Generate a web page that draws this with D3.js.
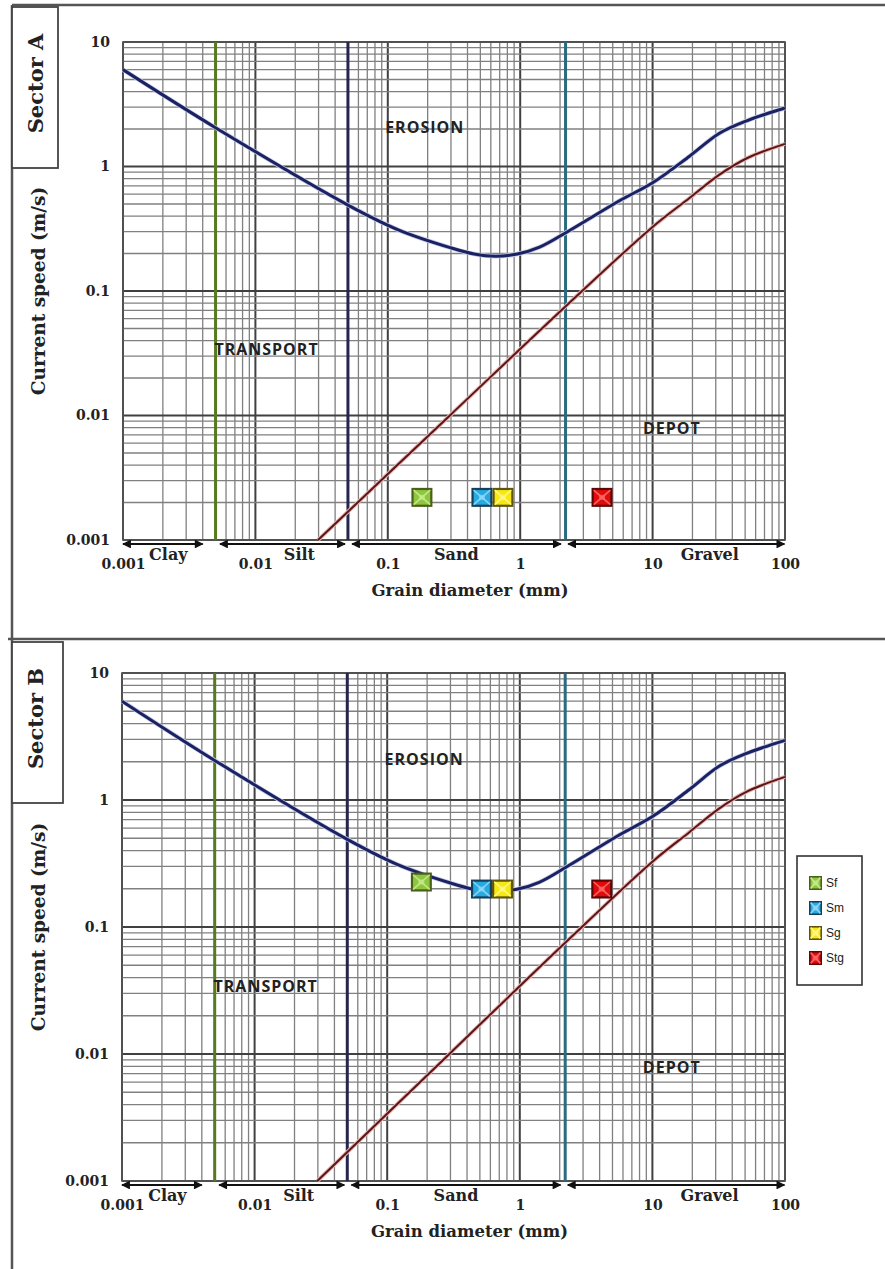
<!DOCTYPE html>
<html>
<head>
<meta charset="utf-8">
<script src="https://cdn.jsdelivr.net/npm/d3@7"></script>
<style>
  body { margin: 0; background: #fff; }
  svg { display: block; }
</style>
</head>
<body>
<svg id="chart" width="885" height="1269"></svg>
<script>
// ---- Data -------------------------------------------------------------
const xTicks = [0.001, 0.01, 0.1, 1, 10, 100];
const xTickLabels = ["0.001", "0.01", "0.1", "1", "10", "100"];
const yTicks = [0.001, 0.01, 0.1, 1, 10];
const yTickLabels = ["0.001", "0.01", "0.1", "1", "10"];

// Erosion threshold curve: [grain diameter (mm), current speed (m/s)]
const erosionCurve = [
  [0.001, 6.0], [0.005, 2.05], [0.05, 0.49], [0.12, 0.31], [0.3, 0.222],
  [0.45, 0.198], [0.65, 0.19], [0.95, 0.198], [1.4, 0.225], [2.26, 0.298],
  [5.7, 0.535], [10, 0.74], [19, 1.21], [32, 1.85], [52, 2.34], [100, 2.95]
];
// Deposition (settling) curve
const depositionCurve = [
  [0.0297, 0.001], [0.3, 0.0102], [2.26, 0.0772], [10, 0.327],
  [19, 0.558], [32, 0.86], [52, 1.17], [100, 1.52]
];

// Grain-size class boundaries (mm) drawn as vertical lines
const boundaryValues = [0.005, 0.05, 2.2];
const boundaryColors = ["#557a1f", "#25264f", "#2b6b80"];

// Grain-size classes: name, arrow start, arrow end, label position (mm)
const classNames = ["Clay", "Silt", "Sand", "Gravel"];
const classFrom = [0.001, 0.0054, 0.0537, 2.3];
const classTo = [0.0040, 0.0475, 2.03, 99];
const classLabelAt = [0.0022, 0.0215, 0.33, 27];

// Zone labels: text, diameter (mm), speed (m/s), anchor
const zoneNames = ["EROSION", "TRANSPORT", "DEPOT"];
const zoneX = [0.19, 0.0049, 14];
const zoneY = [2.07, 0.034, 0.0079];
const zoneAnchor = ["middle", "start", "middle"];

// Samples
const sampleNames = ["Sf", "Sm", "Sg", "Stg"];
const sampleDiameter = [0.181, 0.514, 0.741, 4.15];
const speedSectorA = [0.0022, 0.0022, 0.0022, 0.0022];
const speedSectorB = [0.226, 0.199, 0.199, 0.199];
const sampleColors = ["#8dc63f", "#27a9e1", "#f7e814", "#e10b0b"];
const sampleDark = ["#4b5e1c", "#15405c", "#5e5410", "#5c0606"];
const sampleLight = ["#c6ea8a", "#8fd8f6", "#fff88a", "#ff6a6a"];

const sectorNames = ["Sector A", "Sector B"];
const xTitle = "Grain diameter (mm)";
const yTitle = "Current speed (m/s)";

// ---- Layout -----------------------------------------------------------
const svg = d3.select("#chart");
const serif = "'DejaVu Serif', serif";
const sans = "'Open Sans', sans-serif";

const panels = [
  { left: 123, right: 785, top: 42, bottom: 540, speeds: speedSectorA,
    tab: { x: 12, y: 7, w: 46, h: 161 } },
  { left: 122, right: 785, top: 673, bottom: 1181, speeds: speedSectorB,
    tab: { x: 12, y: 642, w: 51, h: 161 } }
];

// Arrow heads
const defs = svg.append("defs");
defs.append("marker").attr("id", "ah").attr("viewBox", "0 0 10 10")
  .attr("refX", 9).attr("refY", 5).attr("markerWidth", 5).attr("markerHeight", 4.4)
  .attr("orient", "auto-start-reverse").attr("markerUnits", "strokeWidth")
  .append("path").attr("d", "M0,0 L10,5 L0,10 Z").attr("fill", "#111");

// Outer frame
const frame = svg.append("g").attr("stroke", "#555").attr("fill", "none");
frame.append("line").attr("x1", 12).attr("x2", 885).attr("y1", 5).attr("y2", 5).attr("stroke-width", 2.5);
frame.append("line").attr("x1", 12).attr("x2", 12).attr("y1", 5).attr("y2", 639).attr("stroke-width", 2.5);
frame.append("line").attr("x1", 8).attr("x2", 885).attr("y1", 639).attr("y2", 639).attr("stroke-width", 2.5);
frame.append("line").attr("x1", 12).attr("x2", 12).attr("y1", 639).attr("y2", 1269).attr("stroke-width", 2.5);

// Grid values: every 1..9 multiple of each decade
const gridVals = [];
for (let e = -3; e <= 1; e++) for (let k = 1; k <= 9; k++) gridVals.push({ v: k * Math.pow(10, e), major: k === 1 });
gridVals.push({ v: 100, major: true });

panels.forEach((p, pi) => {
  const g = svg.append("g");
  const x = d3.scaleLog().domain([0.001, 100]).range([p.left, p.right]);
  const y = d3.scaleLog().domain([0.001, 10]).range([p.bottom, p.top]);

  // Sector tab
  g.append("rect").attr("x", p.tab.x).attr("y", p.tab.y).attr("width", p.tab.w).attr("height", p.tab.h)
    .attr("fill", "#fff").attr("stroke", "#444").attr("stroke-width", 1.8);
  g.append("text").attr("transform", `translate(${p.tab.x + 31},${p.tab.y + p.tab.h / 2 - 4}) rotate(-90)`)
    .attr("text-anchor", "middle").attr("font-family", serif).attr("font-weight", "bold")
    .attr("font-size", 21).attr("fill", "#222").text(sectorNames[pi]);

  // Grid
  const vx = gridVals.filter(d => d.v >= 0.001 && d.v <= 100);
  g.append("g").selectAll("line").data(vx).join("line")
    .attr("x1", d => x(d.v)).attr("x2", d => x(d.v)).attr("y1", p.top).attr("y2", p.bottom)
    .attr("stroke", d => d.major ? "#404040" : "#808080").attr("stroke-width", d => d.major ? 2 : 1.3);
  const hy = gridVals.filter(d => d.v >= 0.001 && d.v <= 10);
  g.append("g").selectAll("line").data(hy).join("line")
    .attr("x1", p.left).attr("x2", p.right).attr("y1", d => y(d.v)).attr("y2", d => y(d.v))
    .attr("stroke", d => d.major ? "#404040" : "#808080").attr("stroke-width", d => d.major ? 2 : 1.3);
  g.append("rect").attr("x", p.left).attr("y", p.top).attr("width", p.right - p.left).attr("height", p.bottom - p.top)
    .attr("fill", "none").attr("stroke", "#555").attr("stroke-width", 1.6);

  // Class boundaries
  g.append("g").selectAll("line").data(boundaryValues).join("line")
    .attr("x1", d => x(d)).attr("x2", d => x(d)).attr("y1", p.top).attr("y2", p.bottom)
    .attr("stroke", (d, i) => boundaryColors[i]).attr("stroke-width", 3);

  // Curves
  const line = d3.line().x(d => x(d[0])).y(d => y(d[1])).curve(d3.curveCatmullRom.alpha(0.5));
  g.append("path").datum(depositionCurve).attr("d", line).attr("fill", "none")
    .attr("stroke", "#e8b4b4").attr("stroke-width", 4);
  g.append("path").datum(depositionCurve).attr("d", line).attr("fill", "none")
    .attr("stroke", "#5a1616").attr("stroke-width", 2);
  g.append("path").datum(erosionCurve).attr("d", line).attr("fill", "none")
    .attr("stroke", "#c8cce8").attr("stroke-width", 4.5);
  g.append("path").datum(erosionCurve).attr("d", line).attr("fill", "none")
    .attr("stroke", "#1b2262").attr("stroke-width", 3);

  // Zone labels
  g.append("g").selectAll("text").data(zoneNames).join("text")
    .attr("x", (d, i) => x(zoneX[i])).attr("y", (d, i) => y(zoneY[i])).attr("dy", "0.35em")
    .attr("text-anchor", (d, i) => zoneAnchor[i])
    .attr("font-family", sans).attr("font-weight", "bold").attr("font-size", 16)
    .attr("letter-spacing", 1).attr("fill", "#222")
    .text(d => d);

  // Axes
  const xa = g.append("g").attr("transform", `translate(0,${p.bottom})`)
    .call(d3.axisBottom(x).tickValues(xTicks).tickFormat((d, i) => xTickLabels[i]).tickSize(0).tickPadding(19));
  xa.select(".domain").remove();
  xa.selectAll("text").attr("font-family", serif).attr("font-weight", "bold").attr("font-size", 14).attr("fill", "#222");

  const ya = g.append("g").attr("transform", `translate(${p.left},0)`)
    .call(d3.axisLeft(y).tickValues(yTicks).tickFormat((d, i) => yTickLabels[i]).tickSize(0).tickPadding(13));
  ya.select(".domain").remove();
  ya.selectAll("text").attr("font-family", serif).attr("font-weight", "bold").attr("font-size", 14).attr("fill", "#222");

  // Class arrows
  const ay = p.bottom + 4;
  g.append("g").selectAll("line").data(classNames).join("line")
    .attr("x1", (d, i) => x(classFrom[i])).attr("x2", (d, i) => x(classTo[i]))
    .attr("y1", ay).attr("y2", ay).attr("stroke", "#111").attr("stroke-width", 2)
    .attr("marker-start", "url(#ah)").attr("marker-end", "url(#ah)");
  g.append("g").selectAll("text").data(classNames).join("text")
    .attr("x", (d, i) => x(classLabelAt[i])).attr("y", p.bottom + 20)
    .attr("text-anchor", "middle").attr("font-family", serif).attr("font-weight", "bold")
    .attr("font-size", 16).attr("fill", "#222").text(d => d);

  // Axis titles
  g.append("text").attr("x", (p.left + p.right) / 2 + 16).attr("y", p.bottom + 56)
    .attr("text-anchor", "middle").attr("font-family", serif).attr("font-weight", "bold")
    .attr("font-size", 16.5).attr("fill", "#222").text(xTitle);
  g.append("text").attr("transform", `translate(45,${(p.top + p.bottom) / 2}) rotate(-90)`)
    .attr("text-anchor", "middle").attr("font-family", serif).attr("font-weight", "bold")
    .attr("font-size", 18.5).attr("fill", "#222").text(yTitle);

  // Sample markers (bevelled squares)
  const w = 21, h = 19;
  const mk = g.append("g").selectAll("g").data(sampleNames).join("g")
    .attr("transform", (d, i) => `translate(${x(sampleDiameter[i]) - w / 2},${y(p.speeds[i]) - h / 2})`);
  drawBevel(mk, w, h, 2.2);
});

function drawBevel(sel, w, h, b) {
  sel.append("rect").attr("width", w).attr("height", h).attr("fill", (d, i) => sampleDark[i]);
  const iw = w - 2 * b, ih = h - 2 * b, cx = w / 2, cy = h / 2;
  sel.append("rect").attr("x", b).attr("y", b).attr("width", iw).attr("height", ih)
    .attr("fill", (d, i) => sampleColors[i]);
  // light diagonals towards the centre
  sel.append("path")
    .attr("d", `M${b},${b} L${cx},${cy} L${w - b},${b} M${b},${h - b} L${cx},${cy} L${w - b},${h - b}`)
    .attr("stroke", (d, i) => sampleLight[i]).attr("stroke-width", 1.6).attr("fill", "none").attr("opacity", 0.9);
  sel.append("rect").attr("x", cx - 3).attr("y", cy - 2.5).attr("width", 6).attr("height", 5)
    .attr("fill", (d, i) => sampleLight[i]).attr("opacity", 0.7);
}

// Legend
const lg = svg.append("g");
lg.append("rect").attr("x", 797).attr("y", 856).attr("width", 65).attr("height", 129)
  .attr("fill", "#fff").attr("stroke", "#333").attr("stroke-width", 1.6);
const li = lg.selectAll("g.item").data(sampleNames).join("g").attr("class", "item")
  .attr("transform", (d, i) => `translate(809,${876 + i * 25})`);
drawBevel(li, 13, 14, 1.6);
li.append("text").attr("x", 17).attr("y", 7).attr("dy", "0.35em")
  .attr("font-family", "'Liberation Sans Narrow', 'Liberation Sans', sans-serif")
  .attr("font-size", 12).attr("fill", "#222").text(d => d);
</script>
</body>
</html>
